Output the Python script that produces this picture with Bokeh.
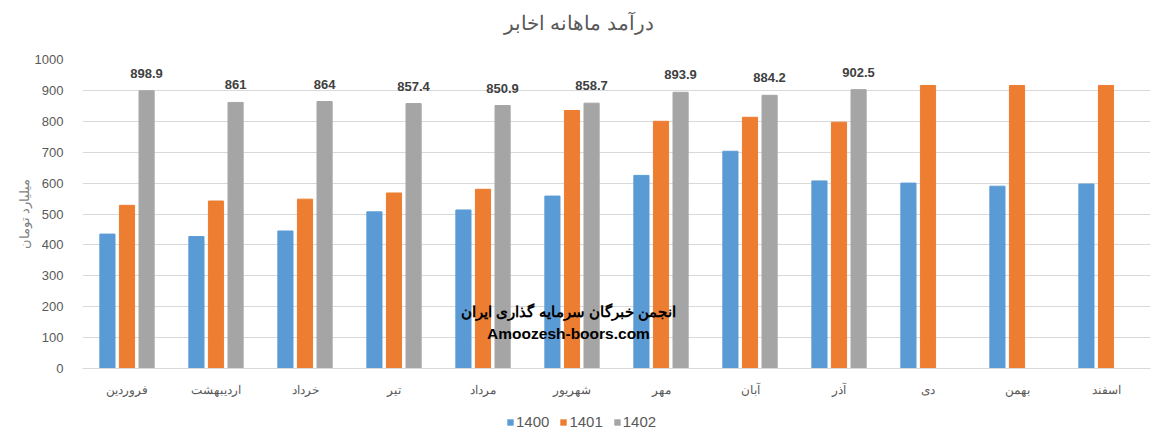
from bokeh.plotting import figure
from bokeh.models import ColumnDataSource, Legend, LegendItem, Label, FactorRange, Range1d
from bokeh.layouts import column
from bokeh.transform import dodge
from bokeh.embed import file_html
from bokeh.resources import INLINE

months = ["فروردین", "اردیبهشت", "خرداد", "تیر", "مرداد", "شهریور",
          "مهر", "آبان", "آذر", "دی", "بهمن", "اسفند"]
v1400 = [435, 427, 445, 507, 513, 558, 625, 703, 607, 600, 590, 597]
v1401 = [528, 542, 548, 568, 580, 835, 800, 813, 797, 916, 916, 916]
v1402 = [898.9, 861, 864, 857.4, 850.9, 858.7, 893.9, 884.2, 902.5, None, None, None]
lab1402 = ["898.9", "861", "864", "857.4", "850.9", "858.7", "893.9", "884.2", "902.5", "", "", ""]
series = ["1400", "1401", "1402"]
colors = ["#5B9BD5", "#ED7D31", "#A5A5A5"]
title_text = "درآمد ماهانه  اخابر"
ylabel_text = "میلیارد تومان"
watermark1 = "انجمن خبرگان سرمایه گذاری ایران"
watermark2 = "Amoozesh-boors.com"


def strip(h):
    f = figure(width=1162, height=h, output_backend="svg", toolbar_location=None,
               x_range=Range1d(0, 1), y_range=Range1d(0, 1),
               x_axis_type=None, y_axis_type=None,
               min_border_left=0, min_border_right=0, min_border_top=0, min_border_bottom=0)
    f.outline_line_color = None
    f.xgrid.grid_line_color = None
    f.ygrid.grid_line_color = None
    return f


# title strip (its frame is aligned with the chart frame, which starts 82px in)
tf = strip(40)
tf.add_layout(Label(x=499, y=18, x_units="screen", y_units="screen",
                    text=title_text, text_align="center", text_baseline="middle",
                    text_font_size="19.5px", text_color="#595959"))

src = ColumnDataSource(dict(
    m=months, a=v1400, b=v1401,
    c=[v if v is not None else float("nan") for v in v1402],
    lab=lab1402,
))

p = figure(x_range=FactorRange(*months), y_range=(0, 1000), width=1162, height=360,
           output_backend="svg", toolbar_location=None,
           min_border_left=82, min_border_right=12, min_border_top=19, min_border_bottom=32)
p.outline_line_color = None
p.background_fill_color = "white"
p.border_fill_color = "white"

w = 0.17
r1 = p.vbar(x=dodge("m", -0.22, range=p.x_range), top="a", width=w, source=src, color=colors[0])
r2 = p.vbar(x=dodge("m", 0.0, range=p.x_range), top="b", width=w, source=src, color=colors[1])
r3 = p.vbar(x=dodge("m", 0.22, range=p.x_range), top="c", width=w, source=src, color=colors[2])
p.text(x=dodge("m", 0.22, range=p.x_range), y="c", text="lab", source=src,
       text_align="center", text_baseline="bottom", y_offset=-13,
       text_font_size="13px", text_font_style="bold", text_color="#404040")

p.yaxis.ticker = list(range(0, 1001, 100))
p.yaxis.axis_line_color = None
p.yaxis.major_tick_line_color = None
p.yaxis.minor_tick_line_color = None
p.yaxis.major_label_text_font_size = "13px"
p.yaxis.major_label_text_color = "#595959"
p.yaxis.major_label_standoff = 13
p.yaxis.axis_label = ylabel_text
p.yaxis.axis_label_text_font_size = "13px"
p.yaxis.axis_label_text_font_style = "normal"
p.yaxis.axis_label_text_color = "#7f7f7f"
p.yaxis.axis_label_standoff = 0

p.xaxis.axis_line_color = "#d9d9d9"
p.xaxis.major_tick_line_color = None
p.xaxis.minor_tick_line_color = None
p.xaxis.major_label_text_font_size = "12px"
p.xaxis.major_label_text_color = "#595959"
p.xaxis.major_label_standoff = 8
p.xgrid.grid_line_color = None
p.ygrid.grid_line_color = "#d9d9d9"

p.add_layout(Label(x=486, y=57, x_units="screen", y_units="screen",
                   text=watermark1, text_align="center",
                   text_baseline="middle", text_font_size="15px", text_font_style="bold",
                   text_color="black"))
p.add_layout(Label(x=486, y=35, x_units="screen", y_units="screen",
                   text=watermark2, text_align="center",
                   text_baseline="middle", text_font_size="15.5px", text_font_style="bold",
                   text_color="black"))

# legend strip below the chart
lf = strip(34)
lrs = [lf.vbar(x=[0.5], top=[0], bottom=[0], width=0, fill_color=c, line_color=None)
       for c in colors]
legend = Legend(items=[LegendItem(label=s, renderers=[r]) for s, r in zip(series, lrs)],
                orientation="horizontal", location=(424, 4),
                glyph_width=8, glyph_height=8, label_text_font_size="15px",
                label_text_color="#595959", background_fill_alpha=0,
                border_line_color=None, spacing=10, label_standoff=2, padding=2,
                margin=0)
lf.add_layout(legend)

open("out.html", "w").write(file_html(column(tf, p, lf, spacing=0), INLINE))
